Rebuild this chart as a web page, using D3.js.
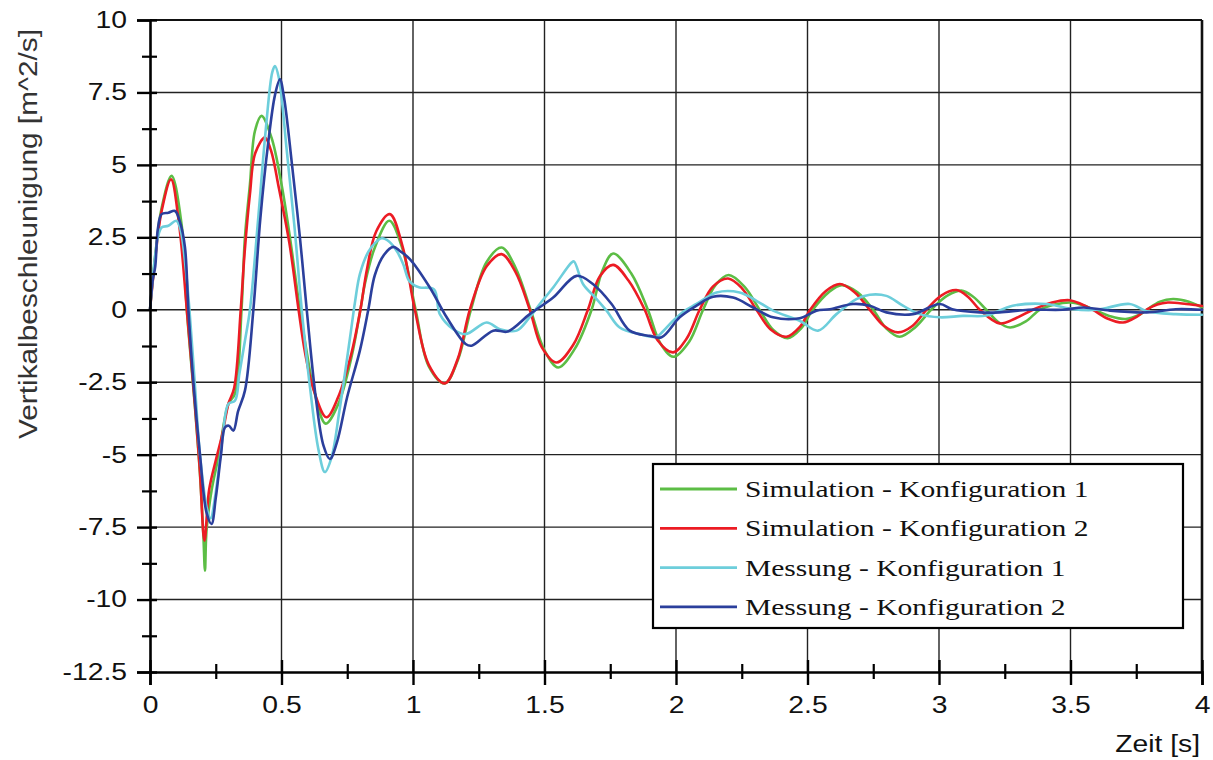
<!DOCTYPE html>
<html>
<head>
<meta charset="utf-8">
<script src="https://cdn.jsdelivr.net/npm/d3@7"></script>
<style>
  html, body { margin: 0; padding: 0; background: #fff; }
  svg { display: block; }
</style>
</head>
<body>
<svg id="chart" width="1213" height="760"></svg>
<script>
// ---------- DATA ----------
const xTicks = [0, 0.5, 1, 1.5, 2, 2.5, 3, 3.5, 4];
const xTickLabels = ["0", "0.5", "1", "1.5", "2", "2.5", "3", "3.5", "4"];
const yTicks = [10, 7.5, 5, 2.5, 0, -2.5, -5, -7.5, -10, -12.5];
const yTickLabels = ["10", "7.5", "5", "2.5", "0", "-2.5", "-5", "-7.5", "-10", "-12.5"];
const xMinor = [0.25, 0.75, 1.25, 1.75, 2.25, 2.75, 3.25, 3.75];
const yMinor = [8.75, 6.25, 3.75, 1.25, -1.25, -3.75, -6.25, -8.75, -11.25];

const seriesNames = ["Simulation - Konfiguration 1", "Simulation - Konfiguration 2", "Messung - Konfiguration 1", "Messung - Konfiguration 2"];
const seriesColors = ["#5cbd45", "#ec1c24", "#6dcedb", "#2b3f9c"];

const sim1T = [0,0.019,0.044,0.082,0.12,0.14,0.171,0.19,0.203,0.209,0.215,0.234,0.26,0.298,0.323,0.348,0.361,0.38,0.399,0.424,0.462,0.5,0.532,0.57,0.595,0.621,0.668,0.716,0.766,0.80,0.817,0.855,0.91,0.96,1.01,1.06,1.121,1.17,1.22,1.28,1.337,1.39,1.447,1.5,1.552,1.615,1.679,1.72,1.761,1.83,1.893,1.94,1.99,2.05,2.103,2.15,2.2,2.26,2.318,2.37,2.425,2.475,2.52,2.58,2.63,2.69,2.75,2.80,2.85,2.91,2.97,3.03,3.085,3.13,3.18,3.225,3.27,3.33,3.383,3.44,3.5,3.55,3.59,3.65,3.71,3.76,3.79,3.84,3.89,3.95,4.0];
const sim1V = [0,1.8,3.5,4.62,2.95,0,-3.37,-5.67,-7.8,-9.0,-7.6,-6.24,-5.09,-3.25,-2.9,0,2.5,4.33,6.17,6.69,5.94,4.33,2.5,0,-1.41,-2.68,-3.93,-3.25,-1.64,0,0.89,2.15,3.07,2.1,0,-1.95,-2.54,-1.75,0,1.65,2.15,1.45,0,-1.4,-1.99,-1.35,0,1.35,1.94,1.25,0,-1.15,-1.62,-1.1,0,0.85,1.2,0.8,0,-0.7,-0.98,-0.65,0,0.6,0.85,0.6,0,-0.65,-0.93,-0.6,0,0.48,0.66,0.45,0,-0.42,-0.61,-0.4,0,0.18,0.25,0.15,0,-0.22,-0.32,-0.18,0,0.28,0.37,0.28,0.08];

const sim2T = [0,0.019,0.044,0.08,0.11,0.14,0.171,0.19,0.207,0.225,0.25,0.275,0.298,0.32,0.345,0.36,0.38,0.40,0.437,0.46,0.49,0.53,0.565,0.59,0.62,0.671,0.716,0.766,0.80,0.825,0.86,0.912,0.96,1.007,1.06,1.121,1.17,1.216,1.28,1.337,1.39,1.444,1.49,1.546,1.61,1.665,1.71,1.761,1.82,1.881,1.93,1.989,2.04,2.09,2.14,2.198,2.25,2.306,2.36,2.42,2.47,2.51,2.57,2.623,2.68,2.737,2.79,2.844,2.9,2.952,3.01,3.066,3.11,3.155,3.23,3.29,3.357,3.43,3.497,3.54,3.585,3.64,3.7,3.75,3.788,3.83,3.87,3.94,4.0];
const sim2V = [0,1.7,3.4,4.5,3.0,0,-3.3,-5.6,-7.97,-6.2,-5.2,-4.3,-3.25,-2.7,0,2.0,4.0,5.4,5.94,5.5,4.2,2.3,0,-1.5,-2.7,-3.71,-3.0,-1.5,0,1.4,2.7,3.3,2.2,0,-1.9,-2.54,-1.7,0,1.5,1.92,1.3,0,-1.3,-1.82,-1.2,0,1.15,1.55,1.0,0,-1.05,-1.47,-1.0,0,0.8,1.08,0.75,0,-0.68,-0.93,-0.6,0,0.65,0.89,0.6,0,-0.55,-0.78,-0.55,0,0.5,0.68,0.45,0,-0.47,-0.3,0,0.25,0.33,0.2,0,-0.3,-0.44,-0.25,0,0.18,0.25,0.2,0.13];

const mes1T = [0,0.015,0.03,0.044,0.07,0.1,0.115,0.135,0.15,0.17,0.19,0.215,0.23,0.25,0.275,0.298,0.323,0.34,0.361,0.38,0.41,0.44,0.465,0.475,0.49,0.52,0.55,0.577,0.61,0.64,0.665,0.69,0.72,0.76,0.78,0.798,0.83,0.855,0.881,0.91,0.94,0.963,0.985,1.007,1.026,1.08,1.102,1.153,1.2,1.28,1.33,1.394,1.44,1.482,1.533,1.603,1.612,1.647,1.69,1.736,1.786,1.862,1.926,1.95,1.989,2.03,2.078,2.154,2.242,2.306,2.369,2.47,2.54,2.61,2.686,2.737,2.8,2.863,2.927,3.003,3.091,3.18,3.28,3.408,3.51,3.6,3.725,3.79,3.9,4.0];
const mes1V = [0,1.5,2.5,2.84,2.9,3.07,2.8,1.5,0,-2.5,-5,-6.8,-7.2,-6.3,-4.5,-3.25,-3.14,-2.2,-1.07,0,3.0,6.2,8.2,8.41,8.0,5.5,2.8,0,-2.8,-4.8,-5.6,-5.1,-3.5,-1.0,0.3,1.23,2.0,2.3,2.47,2.35,2.0,1.57,1.0,0.83,0.77,0.7,-0.15,-0.67,-0.84,-0.44,-0.67,-0.72,-0.3,0.2,0.77,1.63,1.67,0.88,0.45,-0.03,-0.61,-0.84,-0.93,-0.75,-0.38,-0.05,0.2,0.6,0.6,0.31,-0.03,-0.38,-0.72,-0.15,0.37,0.52,0.48,0.14,-0.15,-0.26,-0.21,-0.2,0.14,0.2,0.02,0.0,0.2,-0.05,-0.15,-0.17];

const mes2T = [0,0.01,0.02,0.03,0.044,0.07,0.095,0.115,0.133,0.146,0.165,0.19,0.215,0.234,0.25,0.27,0.285,0.3,0.317,0.335,0.361,0.393,0.42,0.45,0.475,0.494,0.51,0.54,0.57,0.596,0.63,0.66,0.684,0.71,0.75,0.798,0.83,0.855,0.89,0.925,0.95,0.988,1.064,1.128,1.2,1.223,1.305,1.36,1.444,1.533,1.622,1.685,1.755,1.824,1.9,1.945,2.014,2.078,2.141,2.217,2.293,2.369,2.47,2.534,2.585,2.673,2.737,2.8,2.901,3.003,3.05,3.155,3.23,3.34,3.47,3.55,3.65,3.79,3.9,4.0];
const mes2V = [0,1.0,1.5,2.8,3.3,3.35,3.41,3.0,2.15,0,-2.5,-5.0,-7.0,-7.39,-6.5,-5.0,-4.06,-4.0,-4.17,-3.5,-2.79,0,3.2,5.8,7.4,7.95,7.3,5.0,2.5,0,-3.0,-4.7,-5.15,-4.6,-3.0,-1.41,0,1.2,1.9,2.17,2.03,1.75,0.77,-0.26,-1.18,-1.24,-0.72,-0.75,-0.15,0.42,1.17,0.88,0.2,-0.72,-0.9,-0.95,-0.26,0.14,0.45,0.42,0.08,-0.26,-0.29,-0.03,0.02,0.2,0.14,-0.09,-0.15,0.2,0.02,-0.09,-0.09,0.0,0.0,0.08,-0.03,-0.09,0.02,0.0];

const seriesT = [sim1T, sim2T, mes1T, mes2T];
const seriesV = [sim1V, sim2V, mes1V, mes2V];

// ---------- CHART ----------
const svg = d3.select("#chart");
const L = 150, R = 1202, T = 20, B = 672;
const SX = 1.23; // horizontal stretch of the reference text
const x = d3.scaleLinear().domain([0, 4]).range([L, R]);
const y = d3.scaleLinear().domain([-12.5, 10]).range([B, T]);

// grid
const grid = svg.append("g");
grid.selectAll("line.v").data(xTicks.slice(1)).join("line")
  .attr("x1", d => x(d)).attr("x2", d => x(d)).attr("y1", T).attr("y2", B)
  .attr("stroke", "#222").attr("stroke-width", 1.4);
grid.selectAll("line.h").data(yTicks.slice(0, -1)).join("line")
  .attr("x1", L).attr("x2", R).attr("y1", d => y(d)).attr("y2", d => y(d))
  .attr("stroke", "#222").attr("stroke-width", 1.4);

// frame top/right
svg.append("line").attr("x1", L).attr("x2", R).attr("y1", T).attr("y2", T).attr("stroke", "#111").attr("stroke-width", 2.2);
svg.append("line").attr("x1", R).attr("x2", R).attr("y1", T).attr("y2", B).attr("stroke", "#111").attr("stroke-width", 2.6);

// lines
const line = d3.line().curve(d3.curveCatmullRom.alpha(0.5));
const lines = svg.append("g").attr("fill", "none").attr("stroke-linejoin", "round").attr("stroke-linecap", "round");
seriesT.forEach((ts, i) => {
  const pts = ts.map((t, j) => [x(t), y(seriesV[i][j])]);
  lines.append("path").attr("d", line(pts)).attr("stroke", seriesColors[i]).attr("stroke-width", 2.6);
});

// axes
const fontSans = "Liberation Sans, Arial, sans-serif";
const yAxis = d3.axisLeft(y).tickValues(yTicks).tickFormat((d, i) => yTickLabels[i]).tickSize(13).tickPadding(9);
const gy = svg.append("g").attr("transform", `translate(${L},0)`).call(yAxis);
gy.select(".domain").attr("stroke", "#000").attr("stroke-width", 2.6);
gy.selectAll(".tick line").attr("x2", -13).attr("x1", 7).attr("stroke", "#000").attr("stroke-width", 2.4);
gy.selectAll(".tick text").attr("font-family", fontSans).attr("font-size", 23).attr("fill", "#111")
  .attr("x", -23 / SX).attr("transform", `scale(${SX},1)`);

const yAxisMinor = d3.axisLeft(y).tickValues(yMinor).tickFormat("").tickSize(8);
const gym = svg.append("g").attr("transform", `translate(${L},0)`).call(yAxisMinor);
gym.select(".domain").remove();
gym.selectAll(".tick line").attr("x2", -8).attr("x1", 7).attr("stroke", "#000").attr("stroke-width", 2.2);

const xAxis = d3.axisBottom(x).tickValues(xTicks).tickFormat((d, i) => xTickLabels[i]).tickSize(13).tickPadding(12);
const gx = svg.append("g").attr("transform", `translate(0,${B})`).call(xAxis);
gx.select(".domain").attr("stroke", "#000").attr("stroke-width", 2.6);
gx.selectAll(".tick line").attr("y1", -12).attr("y2", 13).attr("stroke", "#000").attr("stroke-width", 2.4);
gx.selectAll(".tick text").attr("font-family", fontSans).attr("font-size", 23).attr("fill", "#111")
  .attr("y", 25).attr("transform", `scale(${SX},1)`);

const xAxisMinor = d3.axisBottom(x).tickValues(xMinor).tickFormat("").tickSize(7);
const gxm = svg.append("g").attr("transform", `translate(0,${B})`).call(xAxisMinor);
gxm.select(".domain").remove();
gxm.selectAll(".tick line").attr("y1", -8).attr("y2", 7).attr("stroke", "#000").attr("stroke-width", 2.2);

// axis titles
svg.append("text").attr("transform", "translate(37,234) rotate(-90)")
  .attr("text-anchor", "middle").attr("font-family", fontSans).attr("font-size", 25).attr("fill", "#333")
  .attr("textLength", 410).attr("lengthAdjust", "spacingAndGlyphs")
  .text("Vertikalbeschleunigung [m^2/s]");
svg.append("text").attr("transform", `translate(1200,752) scale(${SX},1)`).attr("text-anchor", "end")
  .attr("font-family", fontSans).attr("font-size", 23).attr("fill", "#111").text("Zeit [s]");

// legend
const lg = svg.append("g");
lg.append("rect").attr("x", 653).attr("y", 464).attr("width", 530).attr("height", 164)
  .attr("fill", "#fff").attr("stroke", "#000").attr("stroke-width", 2.2);
seriesNames.forEach((name, i) => {
  const cy = 489 + i * 39.3;
  lg.append("line").attr("x1", 660).attr("x2", 737).attr("y1", cy).attr("y2", cy)
    .attr("stroke", seriesColors[i]).attr("stroke-width", 2.8);
  lg.append("text").attr("transform", `translate(745,${cy + 8}) scale(${SX},1)`)
    .attr("font-family", "Liberation Serif, Times New Roman, serif").attr("font-size", 24).attr("fill", "#111")
    .text(name);
});
</script>
</body>
</html>
